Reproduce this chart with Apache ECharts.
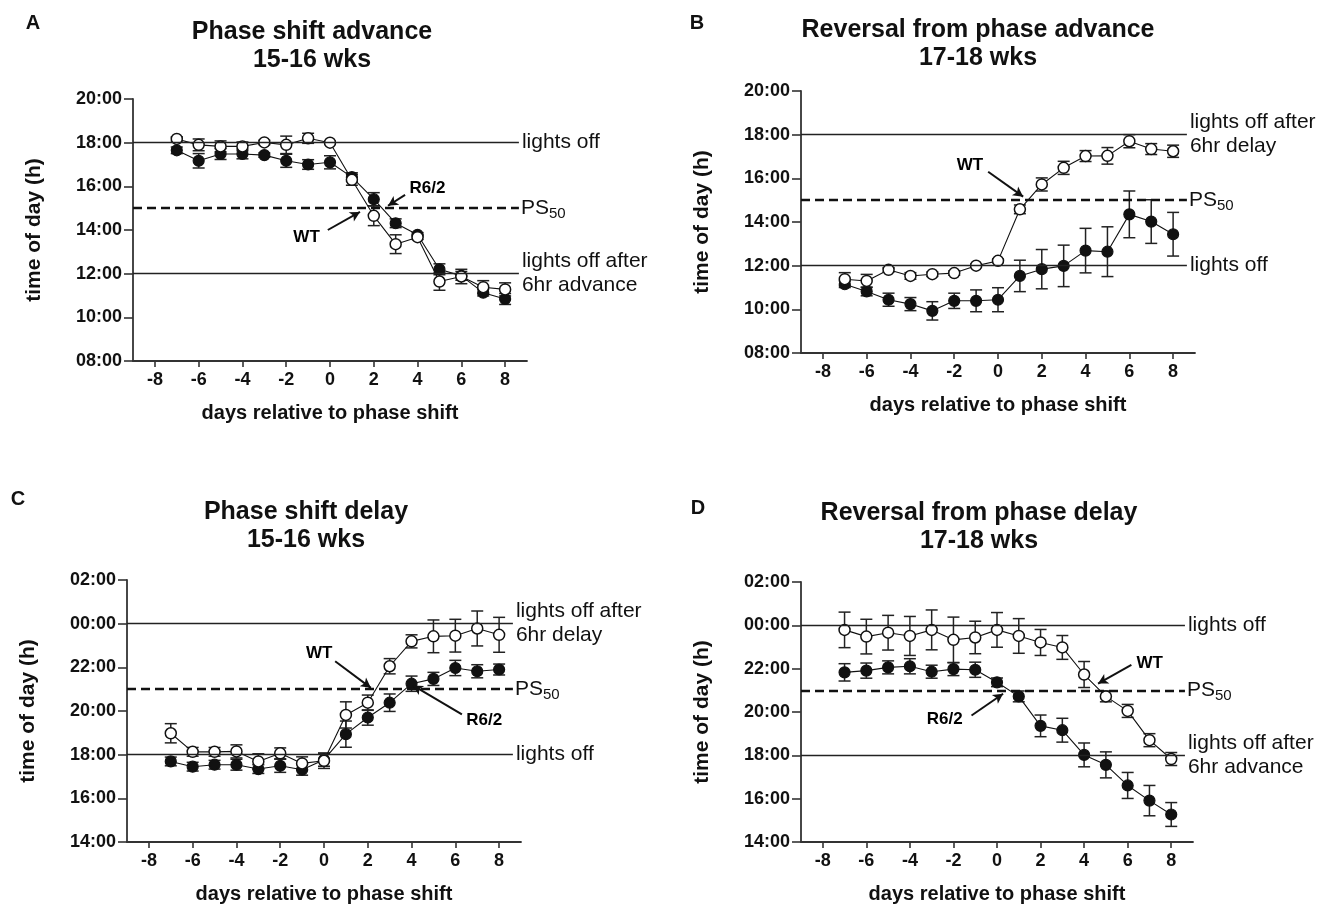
<!DOCTYPE html>
<html>
<head>
<meta charset="utf-8">
<title>Phase shift</title>
<script src="https://cdn.jsdelivr.net/npm/echarts@6/dist/echarts.min.js"></script>
<style>
  html, body { margin: 0; padding: 0; background: #fff; }
  #chart { width: 1330px; height: 905px; }
</style>
</head>
<body>
<div id="chart"></div>
<script>
const FONT = 'Liberation Sans, Arial, Helvetica, sans-serif'

// days relative to phase shift
const days = [-7, -6, -5, -4, -3, -2, -1, 0, 1, 2, 3, 4, 5, 6, 7, 8]
const dayTicks = [-8, -6, -4, -2, 0, 2, 4, 6, 8]

// A: phase shift advance, 15-16 wks (hours)
const wtA = [18.17, 17.9, 17.83, 17.83, 18.01, 17.9, 18.2, 18.0, 16.3, 14.65, 13.35, 13.67, 11.64, 11.87, 11.38, 11.28]
const wtAErr = [0.1, 0.27, 0.25, 0.2, 0.1, 0.4, 0.23, 0.08, 0.25, 0.45, 0.43, 0.1, 0.4, 0.33, 0.3, 0.3]
const r62A = [17.65, 17.17, 17.48, 17.48, 17.43, 17.17, 17.0, 17.1, 16.42, 15.41, 14.31, 13.78, 12.2, 11.9, 11.13, 10.84]
const r62AErr = [0.15, 0.33, 0.25, 0.22, 0.1, 0.3, 0.22, 0.3, 0.2, 0.3, 0.2, 0.1, 0.25, 0.2, 0.15, 0.25]

// B: reversal from phase advance, 17-18 wks
const wtB = [11.38, 11.3, 11.81, 11.53, 11.61, 11.66, 12.0, 12.22, 14.58, 15.72, 16.48, 17.02, 17.03, 17.7, 17.34, 17.24]
const wtBErr = [0.3, 0.3, 0.1, 0.15, 0.1, 0.1, 0.08, 0.08, 0.2, 0.3, 0.3, 0.25, 0.38, 0.3, 0.25, 0.28]
const r62B = [11.15, 10.82, 10.44, 10.24, 9.93, 10.39, 10.39, 10.44, 11.53, 11.84, 11.99, 12.69, 12.64, 14.35, 14.02, 13.44]
const r62BErr = [0.15, 0.2, 0.3, 0.3, 0.42, 0.35, 0.5, 0.55, 0.72, 0.9, 0.95, 1.02, 1.14, 1.07, 1.0, 1.0]

// C: phase shift delay, 15-16 wks (24 = 00:00)
const wtC = [18.98, 18.13, 18.13, 18.15, 17.69, 18.06, 17.6, 17.72, 19.82, 20.38, 22.05, 23.19, 23.42, 23.45, 23.78, 23.49]
const wtCErr = [0.44, 0.2, 0.2, 0.3, 0.35, 0.25, 0.3, 0.35, 0.6, 0.35, 0.35, 0.3, 0.75, 0.75, 0.8, 0.8]
const r62C = [17.69, 17.45, 17.54, 17.54, 17.34, 17.49, 17.31, 17.77, 18.94, 19.7, 20.38, 21.25, 21.47, 21.97, 21.82, 21.9]
const r62CErr = [0.2, 0.2, 0.2, 0.25, 0.2, 0.3, 0.25, 0.3, 0.6, 0.35, 0.4, 0.35, 0.3, 0.35, 0.3, 0.25]

// D: reversal from phase delay, 17-18 wks
const wtD = [23.79, 23.48, 23.66, 23.51, 23.79, 23.33, 23.44, 23.79, 23.51, 23.21, 22.98, 21.73, 20.72, 20.05, 18.7, 17.83]
const wtDErr = [0.82, 0.8, 0.8, 0.9, 0.92, 1.05, 0.75, 0.8, 0.8, 0.6, 0.55, 0.6, 0.25, 0.3, 0.3, 0.3]
const r62D = [21.83, 21.91, 22.06, 22.11, 21.86, 21.98, 21.95, 21.37, 20.72, 19.36, 19.16, 18.02, 17.56, 16.61, 15.91, 15.27]
const r62DErr = [0.4, 0.35, 0.3, 0.35, 0.3, 0.3, 0.35, 0.2, 0.25, 0.5, 0.55, 0.55, 0.6, 0.6, 0.7, 0.55]

// reference lines: [value, label]
const refA = [[18, 'lights off'], [15, 'PS50'], [12, 'lights off after\n6hr advance']]
const refB = [[18, 'lights off after\n6hr delay'], [15, 'PS50'], [12, 'lights off']]
const refC = [[24, 'lights off after\n6hr delay'], [21, 'PS50'], [18, 'lights off']]
const refD = [[24, 'lights off'], [21, 'PS50'], [18, 'lights off after\n6hr advance']]

// annotations: [x, y, text] and arrows [x1, y1, x2, y2]
const noteA = [[4.45, 15.89, 'R6/2'], [-1.07, 13.68, 'WT']]
const arrowA = [[3.43, 15.61, 2.65, 15.11], [-0.1, 14.0, 1.37, 14.83]]
const noteB = [[-1.28, 16.61, 'WT']]
const arrowB = [[-0.45, 16.3, 1.15, 15.16]]
const noteC = [[-0.22, 22.63, 'WT'], [7.32, 19.59, 'R6/2']]
const arrowC = [[0.51, 22.28, 2.14, 21.06], [6.3, 19.85, 4.06, 21.17]]
const noteD = [[7.01, 22.24, 'WT'], [-2.4, 19.66, 'R6/2']]
const arrowD = [[6.17, 22.17, 4.64, 21.31], [-1.17, 19.84, 0.28, 20.84]]

const panels = [
  { letter: 'A', title: 'Phase shift advance', sub: '15-16 wks', grid: { left: 133, top: 99, width: 394, height: 262 },
    tx: 312, ty: 32, lx: 33, ly: 23, min: 8, max: 20, wt: wtA, wtErr: wtAErr, r62: r62A, r62Err: r62AErr,
    ref: refA, note: noteA, arrow: arrowA, lastTop: false },
  { letter: 'B', title: 'Reversal from phase advance', sub: '17-18 wks', grid: { left: 801, top: 91, width: 394, height: 262 },
    tx: 978, ty: 30, lx: 697, ly: 23, min: 8, max: 20, wt: wtB, wtErr: wtBErr, r62: r62B, r62Err: r62BErr,
    ref: refB, note: noteB, arrow: arrowB, lastTop: false },
  { letter: 'C', title: 'Phase shift delay', sub: '15-16 wks', grid: { left: 127, top: 580, width: 394, height: 263 },
    tx: 306, ty: 512, lx: 18, ly: 499, min: 14, max: 26, wt: wtC, wtErr: wtCErr, r62: r62C, r62Err: r62CErr,
    ref: refC, note: noteC, arrow: arrowC, lastTop: false },
  { letter: 'D', title: 'Reversal from phase delay', sub: '17-18 wks', grid: { left: 801, top: 582, width: 392, height: 262 },
    tx: 979, ty: 513, lx: 698, ly: 508, min: 14, max: 26, wt: wtD, wtErr: wtDErr, r62: r62D, r62Err: r62DErr,
    ref: refD, note: noteD, arrow: arrowD, lastTop: true },
]

const fmtHour = (v) => {
  const h = ((v % 24) + 24) % 24
  return (h < 10 ? '0' : '') + h + ':00'
}

const renderErr = (params, api) => {
  const x = api.value(0)
  const y = api.value(1)
  const e = api.value(2)
  const hi = api.coord([x, y + e])
  const lo = api.coord([x, y - e])
  const w = 6
  const st = { stroke: '#222', lineWidth: 1.5 }
  return {
    type: 'group',
    children: [
      { type: 'line', shape: { x1: hi[0], y1: hi[1], x2: lo[0], y2: lo[1] }, style: st },
      { type: 'line', shape: { x1: hi[0] - w, y1: hi[1], x2: hi[0] + w, y2: hi[1] }, style: st },
      { type: 'line', shape: { x1: lo[0] - w, y1: lo[1], x2: lo[0] + w, y2: lo[1] }, style: st },
    ],
  }
}

const grids = []
const xAxes = []
const yAxes = []
const series = []
const graphics = []

panels.forEach((p, i) => {
  grids.push(p.grid)
  xAxes.push({
    type: 'value', gridIndex: i, min: -9, max: 9,
    axisLine: { show: true, onZero: false, lineStyle: { color: '#333', width: 1.8 } },
    axisTick: { show: true, length: 6, customValues: dayTicks, lineStyle: { color: '#333', width: 1.6 } },
    axisLabel: { customValues: dayTicks, margin: 10, fontSize: 18, fontWeight: 'bold', color: '#111', fontFamily: FONT },
    splitLine: { show: false },
    name: 'days relative to phase shift', nameLocation: 'middle', nameGap: 42,
    nameTextStyle: { fontSize: 20, fontWeight: 'bold', color: '#111', fontFamily: FONT },
  })
  yAxes.push({
    type: 'value', gridIndex: i, min: p.min, max: p.max, interval: 2,
    axisLine: { show: true, onZero: false, lineStyle: { color: '#333', width: 1.8 } },
    axisTick: { show: true, length: 9, lineStyle: { color: '#333', width: 1.6 } },
    axisLabel: { formatter: fmtHour, margin: 11, fontSize: 18, fontWeight: 'bold', color: '#111', fontFamily: FONT },
    splitLine: { show: false },
    name: 'time of day (h)', nameLocation: 'middle', nameGap: 88,
    nameTextStyle: { fontSize: 21, fontWeight: 'bold', color: '#111', fontFamily: FONT },
  })

  // reference lines + arrows
  const mlData = p.ref.map((r, k) => {
    const dashed = r[1] === 'PS50'
    const isLast = k === p.ref.length - 1
    const label = dashed
      ? { show: true, position: 'end', distance: 2, formatter: '{a|PS}{b|50}', color: '#111',
          rich: { a: { fontSize: 21, lineHeight: 21, fontFamily: FONT, color: '#111' },
                  b: { fontSize: 15, lineHeight: 15, padding: [12, 0, 0, 0], fontFamily: FONT, color: '#111' } } }
      : { show: true, position: 'end', distance: 3, formatter: r[1], color: '#111', fontSize: 21,
          lineHeight: 24, fontFamily: FONT, padding: (p.lastTop && isLast) ? [24, 0, 0, 0] : 0 }
    return [
      { coord: [-9, r[0]], label: label,
        lineStyle: dashed ? { color: '#111', width: 2.4, type: [9, 5] } : { color: '#222', width: 1.4, type: 'solid' } },
      { coord: [8.63, r[0]] },
    ]
  })
  p.arrow.forEach((a) => {
    mlData.push([
      { coord: [a[0], a[1]], label: { show: false }, lineStyle: { color: '#111', width: 2, type: 'solid' } },
      { coord: [a[2], a[3]], symbol: 'arrow', symbolSize: [8, 10] },
    ])
  })

  series.push({
    type: 'scatter', xAxisIndex: i, yAxisIndex: i, z: 1, silent: true,
    symbol: 'circle', symbolSize: 0.5, itemStyle: { color: '#000', opacity: 1 },
    data: p.note.map((n) => ({ value: [n[0], n[1]], name: n[2] })),
    label: { show: true, position: 'inside', formatter: '{b}', fontSize: 17, fontWeight: 'bold',
      color: '#000', opacity: 1, textBorderWidth: 0, fontFamily: FONT },
    markLine: { silent: true, animation: false, symbol: ['none', 'none'], data: mlData },
  })

  // error bars
  ;[[p.wt, p.wtErr], [p.r62, p.r62Err]].forEach((s) => {
    series.push({
      type: 'custom', xAxisIndex: i, yAxisIndex: i, z: 2, silent: true,
      data: days.map((d, k) => [d, s[0][k], s[1][k]]),
      encode: { x: 0, y: 1 },
      renderItem: renderErr,
    })
  })

  // means
  series.push({
    name: 'R6/2', type: 'line', xAxisIndex: i, yAxisIndex: i, z: 3, silent: true,
    data: days.map((d, k) => [d, p.r62[k]]),
    symbol: 'circle', symbolSize: 11,
    lineStyle: { color: '#111', width: 1.1 },
    itemStyle: { color: '#111', borderColor: '#111', borderWidth: 1.2 },
  })
  series.push({
    name: 'WT', type: 'line', xAxisIndex: i, yAxisIndex: i, z: 4, silent: true,
    data: days.map((d, k) => [d, p.wt[k]]),
    symbol: 'circle', symbolSize: 11,
    lineStyle: { color: '#111', width: 1.1 },
    itemStyle: { color: '#fff', borderColor: '#111', borderWidth: 1.5 },
  })

  graphics.push(
    { type: 'text', x: p.lx, y: p.ly, style: { text: p.letter, font: 'bold 20px ' + FONT, fill: '#111', align: 'center', verticalAlign: 'middle' } },
    { type: 'text', x: p.tx, y: p.ty, style: { text: p.title, font: 'bold 25px ' + FONT, fill: '#111', align: 'center', verticalAlign: 'middle' } },
    { type: 'text', x: p.tx, y: p.ty + 28, style: { text: p.sub, font: 'bold 25px ' + FONT, fill: '#111', align: 'center', verticalAlign: 'middle' } },
  )
})

const myChart = echarts.init(document.getElementById('chart'), null, { renderer: 'canvas' })
myChart.setOption({
  backgroundColor: '#fff',
  animation: false,
  textStyle: { fontFamily: FONT },
  grid: grids,
  xAxis: xAxes,
  yAxis: yAxes,
  series: series,
  graphic: graphics,
})
</script>
</body>
</html>
